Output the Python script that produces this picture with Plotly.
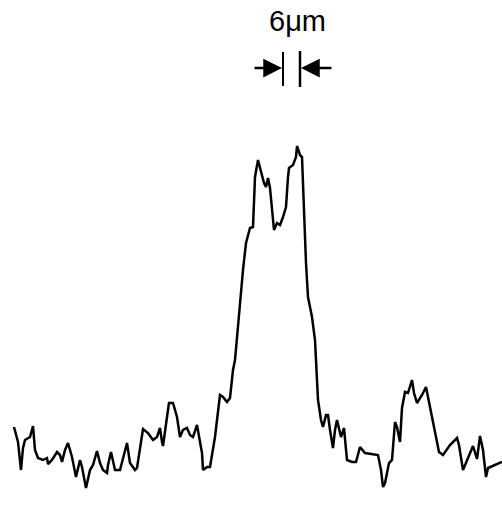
import plotly.graph_objects as go

# Profile trace: position (arbitrary units) and signal intensity (arbitrary units)
position = [14, 18, 21, 23, 25, 30, 33, 35, 38, 43, 47, 48, 52, 57, 60, 62, 65, 68, 72, 76,
            80, 82, 86, 90, 93, 97, 100, 103, 107, 108, 111, 115, 120, 127, 130, 135, 137, 143,
            148, 153, 157, 160, 162, 163, 167, 169, 173, 177, 180, 183, 187, 190, 193, 197, 202,
            203, 207, 210, 215, 220, 223, 227, 230, 233, 235, 237, 240, 243, 246, 250, 253, 255,
            258, 262, 264, 266, 268, 270, 272, 274, 277, 280, 283, 286, 288, 289, 293, 296, 297,
            300, 302, 303, 305, 306, 308, 312, 315, 316, 318, 321, 323, 326, 328, 330, 333, 335,
            337, 341, 344, 347, 352, 356, 360, 365, 370, 378, 381, 383, 385, 389, 392, 395, 397,
            400, 402, 405, 408, 412, 414, 417, 422, 426, 432, 439, 443, 450, 457, 459, 463, 467,
            473, 477, 480, 483, 486, 488, 497, 502]
intensity_px = [427, 442, 470, 448, 440, 437, 426, 450, 458, 460, 458, 464, 460, 452, 455, 462,
                450, 443, 457, 477, 460, 467, 488, 470, 465, 451, 463, 470, 473, 465, 452, 470,
                470, 443, 463, 470, 468, 429, 433, 440, 437, 428, 442, 446, 417, 403, 403, 417,
                437, 430, 428, 435, 437, 425, 453, 470, 467, 467, 437, 395, 397, 402, 398, 370,
                360, 337, 303, 270, 243, 228, 227, 177, 160, 177, 183, 187, 178, 188, 207, 230,
                223, 225, 217, 207, 177, 168, 165, 157, 146, 155, 157, 187, 230, 263, 297, 317,
                340, 360, 400, 420, 427, 415, 415, 430, 448, 430, 420, 437, 428, 460, 462, 462,
                447, 453, 454, 455, 470, 487, 483, 463, 460, 422, 427, 442, 408, 392, 393, 380,
                393, 403, 395, 387, 417, 452, 455, 445, 438, 445, 470, 460, 446, 459, 436, 450,
                477, 468, 464, 462]
H = 506
intensity = [H - v for v in intensity_px]

# Scale bar (6 µm gap) markers
bar_label = "6μm"
bar_left = 283
bar_right = 300

fig = go.Figure()
fig.add_trace(go.Scatter(x=position, y=intensity, mode="lines",
                         line=dict(color="black", width=2.5), hoverinfo="skip",
                         showlegend=False))

fig.add_annotation(x=297, y=H - 21, text=bar_label, showarrow=False,
                   font=dict(family="Liberation Sans, Arial, sans-serif", size=29, color="black"),
                   xref="x", yref="y")
# arrows
fig.add_annotation(x=bar_left - 1, y=H - 68, ax=253, ay=H - 68, xref="x", yref="y",
                   axref="x", ayref="y", text="", showarrow=True, arrowhead=2,
                   arrowwidth=2.5, arrowsize=1.5, arrowcolor="black")
fig.add_annotation(x=bar_right + 1, y=H - 68, ax=333, ay=H - 68, xref="x", yref="y",
                   axref="x", ayref="y", text="", showarrow=True, arrowhead=2,
                   arrowwidth=2.5, arrowsize=1.5, arrowcolor="black")
fig.add_shape(type="line", x0=bar_left, x1=bar_left, y0=H - 52, y1=H - 86,
              line=dict(color="black", width=2))
fig.add_shape(type="line", x0=bar_right, x1=bar_right, y0=H - 51, y1=H - 87,
              line=dict(color="black", width=2.5))

fig.update_layout(width=502, height=506, margin=dict(l=0, r=0, t=0, b=0),
                  paper_bgcolor="white", plot_bgcolor="white",
                  xaxis=dict(range=[0, 502], visible=False),
                  yaxis=dict(range=[0, H], visible=False))
fig.write_html("out.html")
